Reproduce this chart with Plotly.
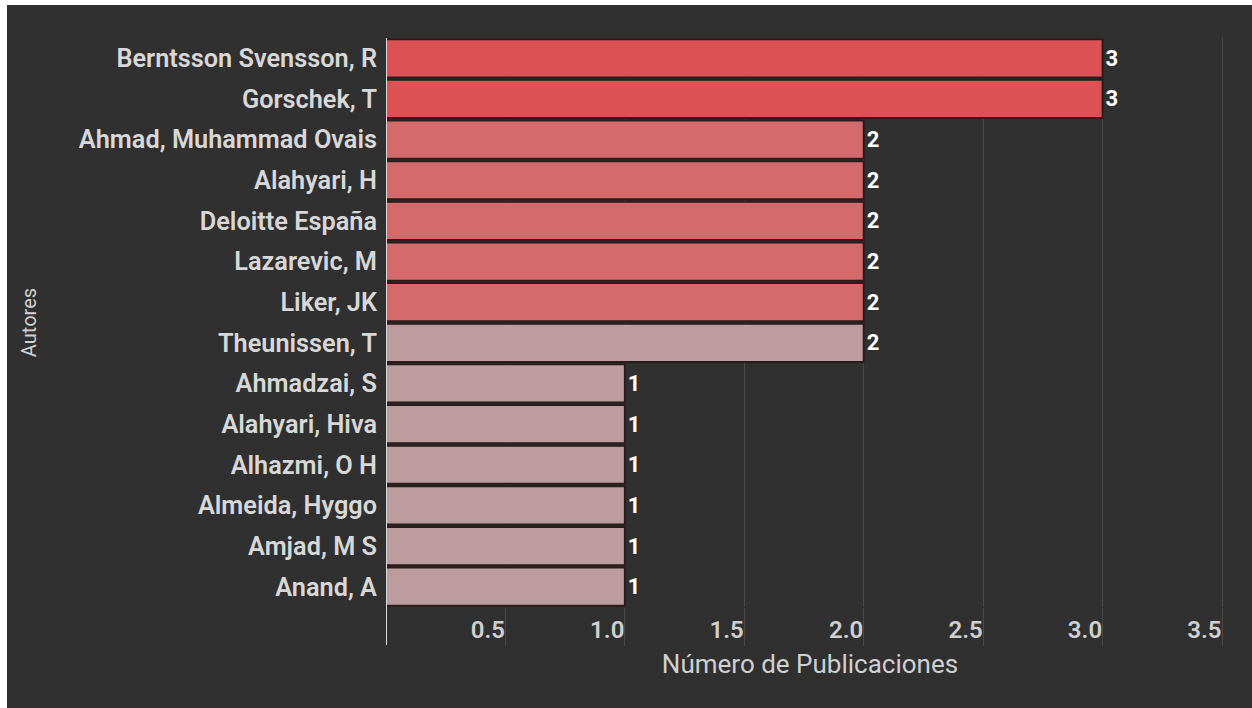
import plotly.graph_objects as go

autores = ["Berntsson Svensson, R", "Gorschek, T", "Ahmad, Muhammad Ovais", "Alahyari, H",
           "Deloitte España", "Lazarevic, M", "Liker, JK", "Theunissen, T", "Ahmadzai, S",
           "Alahyari, Hiva", "Alhazmi, O H", "Almeida, Hyggo", "Amjad, M S", "Anand, A"]
publicaciones = [3, 3, 2, 2, 2, 2, 2, 2, 1, 1, 1, 1, 1, 1]
colores = ["#dc5254", "#dc5254", "#d46a6c", "#d46a6c", "#d46a6c", "#d46a6c", "#d46a6c",
           "#bd9c9f", "#bd9c9f", "#bd9c9f", "#bd9c9f", "#bd9c9f", "#bd9c9f", "#bd9c9f"]
x_ticks = [0.5, 1.0, 1.5, 2.0, 2.5, 3.0, 3.5]

W, H = 1252, 708
L, R, T, B = 386, 18, 38, 101
pw, ph = W - L - R, H - T - B
BG = "#303030"

fig = go.Figure(go.Bar(
    x=publicaciones, y=autores, orientation="h",
    marker=dict(color=colores, line=dict(color="#2a1c1c", width=2)),
    text=[str(v) for v in publicaciones], textposition="outside",
    textfont=dict(color="white", size=22, family="Roboto", weight="bold"),
    cliponaxis=False, hoverinfo="skip",
))

def px_x(p):
    return (p - L) / pw

def px_y(p):
    return (H - B - p) / ph

shapes = [
    dict(type="rect", xref="paper", yref="paper", x0=px_x(0), x1=px_x(7), y0=px_y(H), y1=px_y(0),
         fillcolor="white", line=dict(width=0), layer="above"),
    dict(type="rect", xref="paper", yref="paper", x0=px_x(0), x1=px_x(W), y0=px_y(5), y1=px_y(0),
         fillcolor="white", line=dict(width=0), layer="above"),
    dict(type="line", xref="x", yref="paper", x0=0, x1=0, y0=px_y(H - B + 38), y1=1,
         line=dict(color="#d8d8d8", width=2), layer="above"),
]

fig.update_layout(
    width=W, height=H,
    margin=dict(l=L, r=R, t=T, b=B),
    paper_bgcolor=BG, plot_bgcolor=BG,
    bargap=0.06,
    showlegend=False,
    shapes=shapes,
    font=dict(family="Roboto", color="#d0d0d0"),
    xaxis=dict(
        range=[0, 3.55], tickvals=x_ticks, ticktext=[f"{v:.1f}" for v in x_ticks],
        showgrid=True, gridcolor="#4a4a4a", gridwidth=1, zeroline=False,
        ticks="outside", ticklen=38, tickcolor="#4a4a4a", tickwidth=1,
        ticklabelposition="outside left", ticklabelstandoff=1,
        tickfont=dict(size=24, color="#d0d0d0", family="Roboto", weight=600),
        title=dict(text="Número de Publicaciones", font=dict(size=26, color="#d0d0d0"), standoff=12),
    ),
    yaxis=dict(
        autorange="reversed", showgrid=False, zeroline=False, ticks="",
        ticklabelstandoff=8,
        tickfont=dict(size=25.3, color="#d8d8d8", family="Roboto", weight=600),
        title=dict(text="Autores", font=dict(size=20, color="#d0d0d0"), standoff=36),
    ),
)

fig.write_html("out.html")
